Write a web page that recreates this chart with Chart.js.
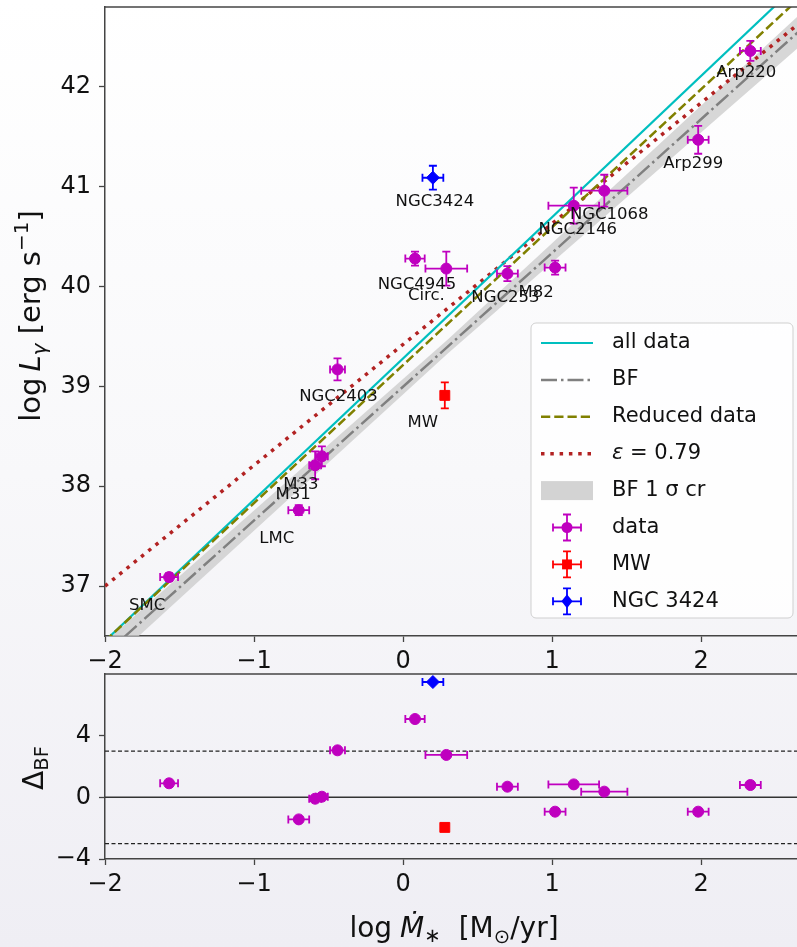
<!DOCTYPE html>
<html>
<head>
<meta charset="utf-8">
<script src="https://cdn.jsdelivr.net/npm/chart.js@4.4.1/dist/chart.umd.min.js"></script>
<style>
  html, body { margin: 0; padding: 0; }
  body {
    width: 797px; height: 947px; overflow: hidden; position: relative;
    background: linear-gradient(#ffffff 0%, #f8f8fa 50%, #efeef4 100%);
  }
  #top { position: absolute; left: 0; top: 0; }
  #bottom { position: absolute; left: 0; top: 667px; }
</style>
</head>
<body>
<canvas id="top" width="797" height="674"></canvas>
<canvas id="bottom" width="797" height="280"></canvas>
<script>
// ---- data ----
const galaxies = ['SMC', 'LMC', 'M31', 'M33', 'NGC2403', 'NGC4945', 'Circ.', 'NGC253', 'M82', 'NGC2146', 'NGC1068', 'Arp299', 'Arp220'];
const logSFR = [-1.57, -0.70, -0.59, -0.545, -0.44, 0.08, 0.29, 0.70, 1.02, 1.145, 1.35, 1.98, 2.33];
const logLgamma = [37.09, 37.76, 38.21, 38.30, 39.17, 40.28, 40.18, 40.13, 40.19, 40.81, 40.96, 41.47, 42.36];
const sfrErr = [0.06, 0.07, 0.04, 0.04, 0.05, 0.065, 0.14, 0.07, 0.07, 0.17, 0.155, 0.07, 0.07];
const lumErr = [0.04, 0.05, 0.14, 0.10, 0.11, 0.07, 0.17, 0.075, 0.07, 0.18, 0.16, 0.14, 0.10];
const deltaBF = [0.91, -1.43, -0.09, 0.04, 3.05, 5.08, 2.75, 0.69, -0.93, 0.84, 0.37, -0.93, 0.80];

const mwSFR = [0.28];
const mwL = [38.91];
const mwSfrErr = [0];
const mwLErr = [0.13];
const mwDelta = [-1.95];

const n3424SFR = [0.20];
const n3424L = [41.09];
const n3424SfrErr = [0.07];
const n3424LErr = [0.12];
const n3424Delta = [7.48];

// fitted lines (end points) and the BF 1 sigma band
const fitX = [-2, 2.65];
const allDataFit = [36.45, 43.03];
const reducedFit = [36.45, 42.875];
const bfFit = [36.317, 42.548];
const eps079Fit = [37.0, 42.627];
const bandX = [-2, 0.3, 2.65];
const bandUpper = [36.44, 39.47, 42.71];
const bandLower = [36.19, 39.33, 42.39];

const deltaLimits = [3, -3];
const xTicks = [-2, -1, 0, 1, 2];
const topYTicks = [37, 38, 39, 40, 41, 42];
const botYTicks = [-4, 0, 4];

// label placement (pixel shift from the point)
const labelShift = [[-22, 29], [-22, 29], [-22, 29], [-21, 28], [1, 27], [2, 26], [-20, 27], [-2, 24], [-19, 25], [4, 24], [5, 24], [-5, 24], [-4, 22]];
const mwLabelShift = [-22, 27];
const n3424LabelShift = [2, 24];

const FONT = "'DejaVu Sans', sans-serif";
const MAGENTA = '#bf00bf';

function pts(xs, ys) {
  return xs.map((x, i) => ({ x: x, y: ys[i] }));
}

function fmtTick(v) {
  return v < 0 ? '\u2212' + Math.abs(v) : String(v);
}

// draw text made of pieces (italic, sub/superscript)
function richText(ctx, parts, cx, cy, rotate) {
  ctx.save();
  ctx.translate(cx, cy);
  if (rotate) ctx.rotate(-Math.PI / 2);
  ctx.textAlign = 'left';
  ctx.textBaseline = 'alphabetic';
  ctx.fillStyle = '#111';
  let total = 0;
  const widths = parts.map(p => {
    ctx.font = (p.it ? 'italic ' : '') + p.s + 'px ' + FONT;
    const w = ctx.measureText(p.t).width;
    total += w + (p.gap || 0);
    return w;
  });
  let x = -total / 2;
  parts.forEach((p, i) => {
    ctx.font = (p.it ? 'italic ' : '') + p.s + 'px ' + FONT;
    ctx.fillText(p.t, x, p.dy || 0);
    x += widths[i] + (p.gap || 0);
  });
  ctx.restore();
}

function drawErrBar(ctx, x, y, left, right, up, down, cap) {
  ctx.beginPath();
  if (right > left) {
    ctx.moveTo(left, y); ctx.lineTo(right, y);
    ctx.moveTo(left, y - cap); ctx.lineTo(left, y + cap);
    ctx.moveTo(right, y - cap); ctx.lineTo(right, y + cap);
  }
  if (down > up) {
    ctx.moveTo(x, up); ctx.lineTo(x, down);
    ctx.moveTo(x - cap, up); ctx.lineTo(x + cap, up);
    ctx.moveTo(x - cap, down); ctx.lineTo(x + cap, down);
  }
  ctx.stroke();
}

function drawMarker(ctx, style, x, y, r, color) {
  ctx.fillStyle = color;
  ctx.beginPath();
  if (style === 'rect') {
    const h = r * Math.SQRT1_2;
    ctx.rect(x - h, y - h, 2 * h, 2 * h);
  } else if (style === 'rectRot') {
    ctx.moveTo(x, y - r); ctx.lineTo(x + r * 0.8, y); ctx.lineTo(x, y + r); ctx.lineTo(x - r * 0.8, y);
    ctx.closePath();
  } else {
    ctx.arc(x, y, r, 0, Math.PI * 2);
  }
  ctx.fill();
}

// error bars, drawn below each marker dataset
const errorBars = {
  id: 'errorBars',
  beforeDatasetDraw(chart, args) {
    const ds = chart.data.datasets[args.index];
    if (!ds.errX && !ds.errY) return;
    const xs = chart.scales.x, ys = chart.scales.y, ctx = chart.ctx, a = chart.chartArea;
    ctx.save();
    ctx.beginPath();
    ctx.rect(a.left, a.top, a.right - a.left, a.bottom - a.top);
    ctx.clip();
    ctx.strokeStyle = ds.borderColor;
    ctx.lineWidth = 1.8;
    ds.data.forEach((p, i) => {
      const ex = ds.errX ? ds.errX[i] : 0;
      const ey = ds.errY ? ds.errY[i] : 0;
      drawErrBar(ctx, xs.getPixelForValue(p.x), ys.getPixelForValue(p.y),
        xs.getPixelForValue(p.x - ex), xs.getPixelForValue(p.x + ex),
        ys.getPixelForValue(p.y + ey), ys.getPixelForValue(p.y - ey), 4);
    });
    ctx.restore();
  }
};

// top frame line (matplotlib box)
const frameTop = {
  id: 'frameTop',
  afterDraw(chart) {
    const ctx = chart.ctx, a = chart.chartArea;
    ctx.save();
    ctx.strokeStyle = '#444';
    ctx.lineWidth = 1.5;
    ctx.beginPath();
    ctx.moveTo(a.left, a.top);
    ctx.lineTo(a.right, a.top);
    ctx.stroke();
    ctx.restore();
  }
};

// galaxy names
const nameLabels = {
  id: 'nameLabels',
  afterDatasetsDraw(chart) {
    const xs = chart.scales.x, ys = chart.scales.y, ctx = chart.ctx;
    ctx.save();
    ctx.font = '16.5px ' + FONT;
    ctx.fillStyle = '#111';
    ctx.textAlign = 'center';
    ctx.textBaseline = 'middle';
    const put = (name, x, y, sh) => {
      ctx.fillText(name, xs.getPixelForValue(x) + sh[0], ys.getPixelForValue(y) + sh[1]);
    };
    galaxies.forEach((g, i) => put(g, logSFR[i], logLgamma[i], labelShift[i]));
    put('MW', mwSFR[0], mwL[0], mwLabelShift);
    put('NGC3424', n3424SFR[0], n3424L[0], n3424LabelShift);
    ctx.restore();
  }
};

// legend box like matplotlib's
const legendBox = {
  id: 'legendBox',
  afterDraw(chart) {
    const ctx = chart.ctx;
    const bx = 531, by = 323, bw = 262, bh = 295;
    ctx.save();
    ctx.beginPath();
    ctx.roundRect(bx, by, bw, bh, 5);
    ctx.fillStyle = 'rgba(255,255,255,0.82)';
    ctx.fill();
    ctx.strokeStyle = '#cfcfcf';
    ctx.lineWidth = 1;
    ctx.stroke();

    const x1 = 541, x2 = 593, tx = 612, mx = 567;
    const rowY = i => by + 20 + i * 36.9;
    const seg = (i, color, w, dash) => {
      ctx.beginPath();
      ctx.strokeStyle = color;
      ctx.lineWidth = w;
      ctx.setLineDash(dash);
      ctx.moveTo(x1, rowY(i));
      ctx.lineTo(x2, rowY(i));
      ctx.stroke();
      ctx.setLineDash([]);
    };
    seg(0, '#00bfbf', 2.2, []);
    seg(1, '#808080', 2.5, [16, 4, 2.5, 4]);
    seg(2, '#808000', 2.5, [9.25, 4]);
    seg(3, '#b22222', 3.5, [3.5, 5.8]);
    ctx.fillStyle = '#d3d3d3';
    ctx.fillRect(x1, rowY(4) - 9.5, x2 - x1, 19);

    const marks = [['circle', 5.5, MAGENTA], ['rect', 7, '#ff0000'], ['rectRot', 7, '#0000ff']];
    marks.forEach((m, k) => {
      const y = rowY(5 + k);
      ctx.strokeStyle = m[2];
      ctx.lineWidth = 1.8;
      drawErrBar(ctx, mx, y, mx - 14, mx + 14, y - 13, y + 13, 4);
      drawMarker(ctx, m[0], mx, y, m[1], m[2]);
    });

    ctx.fillStyle = '#111';
    ctx.textBaseline = 'middle';
    ctx.textAlign = 'left';
    ctx.font = '21px ' + FONT;
    const texts = ['all data', 'BF', 'Reduced data', null, 'BF 1 \u03c3 cr', 'data', 'MW', 'NGC 3424'];
    texts.forEach((t, i) => { if (t) ctx.fillText(t, tx, rowY(i)); });
    ctx.font = 'italic 21px ' + FONT;
    ctx.fillText('\u03b5', tx, rowY(3));
    const ew = ctx.measureText('\u03b5').width;
    ctx.font = '21px ' + FONT;
    ctx.fillText(' = 0.79', tx + ew, rowY(3));
    ctx.restore();
  }
};

const topTitle = {
  id: 'topTitle',
  afterDraw(chart) {
    richText(chart.ctx, [
      { t: 'log', s: 29, gap: 6 },
      { t: 'L', s: 29, it: true },
      { t: '\u03b3', s: 20, it: true, dy: 6 },
      { t: ' [erg s', s: 29 },
      { t: '\u22121', s: 20, dy: -12 },
      { t: ']', s: 29 }
    ], 40, 316, true);
  }
};

const bottomTitles = {
  id: 'bottomTitles',
  afterDraw(chart) {
    const ctx = chart.ctx;
    richText(ctx, [
      { t: '\u0394', s: 28 },
      { t: 'BF', s: 19.6, dy: 5 }
    ], 43, 101, true);
    richText(ctx, [
      { t: 'log', s: 28, gap: 8 },
      { t: '\u1e40', s: 28, it: true },
      { t: '\u2217', s: 19.6, dy: 5, gap: 18 },
      { t: '[M', s: 28 },
      { t: '\u2299', s: 19.6, dy: 6 },
      { t: '/yr]', s: 28 }
    ], 454, 270, false);
  }
};

function axisX(height) {
  return {
    type: 'linear', min: -2, max: 2.643,
    afterBuildTicks: s => { s.ticks = xTicks.map(v => ({ value: v })); },
    afterFit: s => { s.height = height; s.paddingLeft = 0; s.paddingRight = 0; },
    ticks: { font: { family: FONT, size: 24 }, color: '#111', padding: 5, maxRotation: 0, autoSkip: false, callback: fmtTick },
    grid: { drawOnChartArea: false, drawTicks: true, tickLength: 6, tickWidth: 1.3, tickColor: '#444' },
    border: { display: true, color: '#444', width: 1.5 }
  };
}

function axisY(min, max, ticks) {
  return {
    type: 'linear', min: min, max: max,
    afterBuildTicks: s => { s.ticks = ticks.map(v => ({ value: v })); },
    afterFit: s => { s.width = 105; s.paddingTop = 0; s.paddingBottom = 0; },
    ticks: { font: { family: FONT, size: 24 }, color: '#111', padding: 8, autoSkip: false, callback: fmtTick },
    grid: { drawOnChartArea: false, drawTicks: true, tickLength: 6, tickWidth: 1.3, tickColor: '#444' },
    border: { display: true, color: '#444', width: 1.5 }
  };
}

const baseOptions = (padTop) => ({
  responsive: false,
  animation: false,
  events: [],
  layout: { autoPadding: false, padding: { top: padTop, left: 0, right: 0, bottom: 0 } },
  elements: { line: { tension: 0 } },
  plugins: { legend: { display: false }, tooltip: { enabled: false } }
});

// ---- top panel ----
const topOptions = baseOptions(7);
topOptions.scales = { x: axisX(38), y: axisY(36.5, 42.8, topYTicks) };

new Chart(document.getElementById('top'), {
  type: 'scatter',
  data: {
    datasets: [
      { type: 'line', label: 'band low', data: pts(bandX, bandLower), borderWidth: 0, pointRadius: 0, fill: false, order: 11 },
      { type: 'line', label: 'BF 1 sigma cr', data: pts(bandX, bandUpper), borderWidth: 0, pointRadius: 0, fill: '-1', backgroundColor: 'rgba(205,205,205,0.8)', order: 10 },
      { type: 'line', label: 'BF', data: pts(fitX, bfFit), borderColor: '#808080', borderWidth: 2.5, borderDash: [16, 4, 2.5, 4], pointRadius: 0, order: 9 },
      { type: 'line', label: 'eps', data: pts(fitX, eps079Fit), borderColor: '#b22222', borderWidth: 3.5, borderDash: [3.5, 5.8], pointRadius: 0, order: 8 },
      { type: 'line', label: 'all data', data: pts(fitX, allDataFit), borderColor: '#00bfbf', borderWidth: 2.2, pointRadius: 0, order: 7 },
      { type: 'line', label: 'Reduced data', data: pts(fitX, reducedFit), borderColor: '#808000', borderWidth: 2.5, borderDash: [9.25, 4], pointRadius: 0, order: 6 },
      { label: 'data', data: pts(logSFR, logLgamma), errX: sfrErr, errY: lumErr, pointStyle: 'circle', pointRadius: 5.5, backgroundColor: MAGENTA, borderColor: MAGENTA, order: 3 },
      { label: 'MW', data: pts(mwSFR, mwL), errX: mwSfrErr, errY: mwLErr, pointStyle: 'rect', pointRadius: 7, backgroundColor: '#ff0000', borderColor: '#ff0000', order: 2 },
      { label: 'NGC 3424', data: pts(n3424SFR, n3424L), errX: n3424SfrErr, errY: n3424LErr, pointStyle: 'rectRot', pointRadius: 6.5, backgroundColor: '#0000ff', borderColor: '#0000ff', order: 1 }
    ]
  },
  options: topOptions,
  plugins: [errorBars, nameLabels, frameTop, legendBox, topTitle]
});

// ---- residual panel ----
const botOptions = baseOptions(7);
botOptions.scales = { x: axisX(88), y: axisY(-4, 8, botYTicks) };

new Chart(document.getElementById('bottom'), {
  type: 'scatter',
  data: {
    datasets: [
      { type: 'line', label: 'zero', data: pts(fitX, [0, 0]), borderColor: '#333', borderWidth: 1.5, pointRadius: 0, order: 9 },
      { type: 'line', label: '+3', data: pts(fitX, [deltaLimits[0], deltaLimits[0]]), borderColor: '#222', borderWidth: 1.2, borderDash: [4, 2.5], pointRadius: 0, order: 8 },
      { type: 'line', label: '-3', data: pts(fitX, [deltaLimits[1], deltaLimits[1]]), borderColor: '#222', borderWidth: 1.2, borderDash: [4, 2.5], pointRadius: 0, order: 7 },
      { label: 'data', data: pts(logSFR, deltaBF), errX: sfrErr, pointStyle: 'circle', pointRadius: 5.5, backgroundColor: MAGENTA, borderColor: MAGENTA, order: 3 },
      { label: 'MW', data: pts(mwSFR, mwDelta), pointStyle: 'rect', pointRadius: 7, backgroundColor: '#ff0000', borderColor: '#ff0000', order: 2 },
      { label: 'NGC 3424', data: pts(n3424SFR, n3424Delta), errX: n3424SfrErr, pointStyle: 'rectRot', pointRadius: 6.5, backgroundColor: '#0000ff', borderColor: '#0000ff', order: 1 }
    ]
  },
  options: botOptions,
  plugins: [errorBars, frameTop, bottomTitles]
});
</script>
</body>
</html>
